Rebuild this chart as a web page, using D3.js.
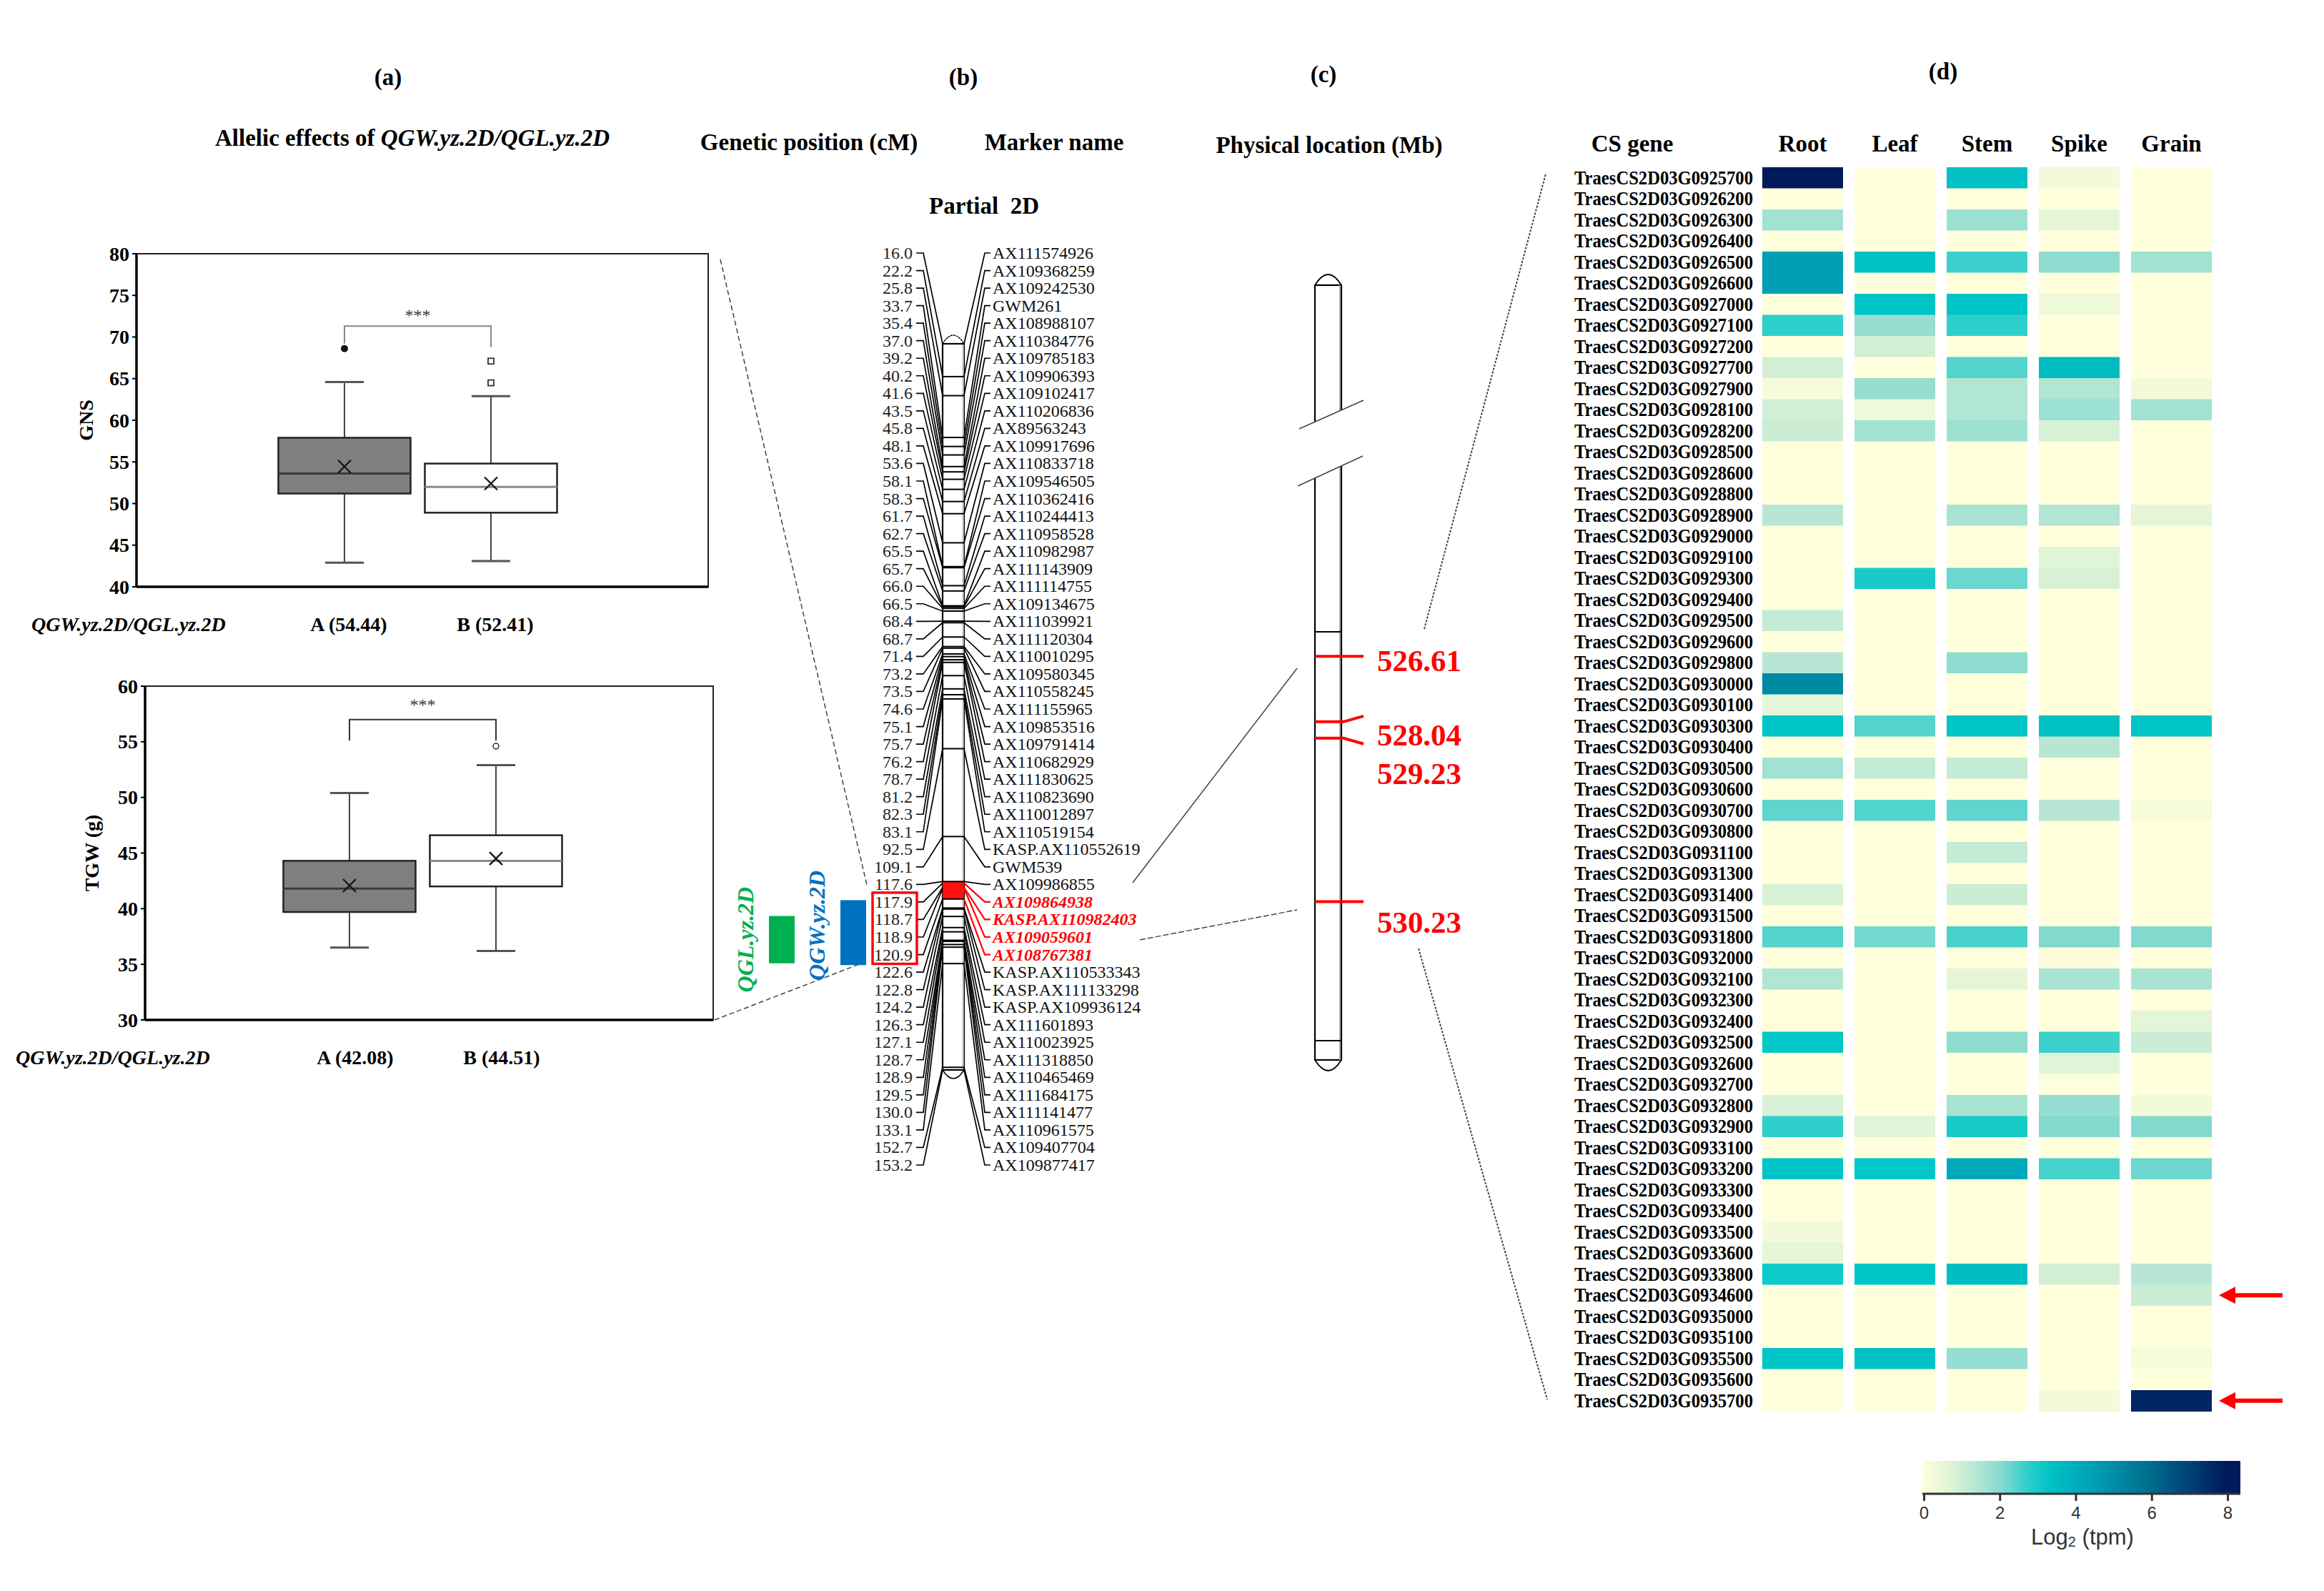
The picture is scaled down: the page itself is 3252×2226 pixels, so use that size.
<!DOCTYPE html>
<html><head><meta charset="utf-8">
<script src="https://cdn.jsdelivr.net/npm/d3@7"></script>
<style>
body{margin:0;background:#fff}
text{font-family:"Liberation Serif","Times New Roman",serif}
text.sans{font-family:"Liberation Sans",Arial,sans-serif}
</style>
</head><body>
<svg id="c" width="3252" height="2226"></svg>
<script>
// ---------------- DATA ----------------
// (a) allelic effect box plots
const alleleGroups = ["A", "B"];
const gnsLow = [42.9, 43.1], gnsQ1 = [51.2, 48.9], gnsMedian = [53.6, 52.0], gnsQ3 = [57.9, 54.8], gnsHigh = [64.6, 62.9];
const gnsMean = [54.44, 52.41];
const gnsOutliers = [[68.6], [64.5, 67.1]];
const tgwLow = [36.5, 36.2], tgwQ1 = [39.7, 42.0], tgwMedian = [41.8, 44.3], tgwQ3 = [44.3, 46.6], tgwHigh = [50.4, 52.9];
const tgwMean = [42.08, 44.51];
const tgwOutliers = [[], [54.6]];
const gnsTicks = [40, 45, 50, 55, 60, 65, 70, 75, 80];
const tgwTicks = [30, 35, 40, 45, 50, 55, 60];

// (b) genetic map of partial 2D
const cmPositions = [16.0, 22.2, 25.8, 33.7, 35.4, 37.0, 39.2, 40.2, 41.6, 43.5, 45.8, 48.1, 53.6, 58.1, 58.3, 61.7, 62.7, 65.5, 65.7, 66.0, 66.5, 68.4, 68.7, 71.4, 73.2, 73.5, 74.6, 75.1, 75.7, 76.2, 78.7, 81.2, 82.3, 83.1, 92.5, 109.1, 117.6, 117.9, 118.7, 118.9, 120.9, 122.6, 122.8, 124.2, 126.3, 127.1, 128.7, 128.9, 129.5, 130.0, 133.1, 152.7, 153.2];
const markerNames = ["AX111574926", "AX109368259", "AX109242530", "GWM261", "AX108988107", "AX110384776", "AX109785183", "AX109906393", "AX109102417", "AX110206836", "AX89563243", "AX109917696", "AX110833718", "AX109546505", "AX110362416", "AX110244413", "AX110958528", "AX110982987", "AX111143909", "AX111114755", "AX109134675", "AX111039921", "AX111120304", "AX110010295", "AX109580345", "AX110558245", "AX111155965", "AX109853516", "AX109791414", "AX110682929", "AX111830625", "AX110823690", "AX110012897", "AX110519154", "KASP.AX110552619", "GWM539", "AX109986855", "AX109864938", "KASP.AX110982403", "AX109059601", "AX108767381", "KASP.AX110533343", "KASP.AX111133298", "KASP.AX109936124", "AX111601893", "AX110023925", "AX111318850", "AX110465469", "AX111684175", "AX111141477", "AX110961575", "AX109407704", "AX109877417"];
const highlightMarkers = ["AX109864938", "KASP.AX110982403", "AX109059601", "AX108767381"];
const highlightInterval = [117.6, 120.9];
const qtlNames = ["QGL.yz.2D", "QGW.yz.2D"];
const qtlColors = ["#00b050", "#0070c0"];
const qtlRowStart = [37.8, 36.9];   // in marker-row units
const qtlRowEnd = [40.5, 40.6];

// (c) physical location
const physMb = [526.61, 528.04, 529.23, 530.23];
const physCm = [117.9, 118.7, 118.9, 120.9];
const physFlankCm = [117.6, 122.6];

// (d) expression heatmap
const genes = ["TraesCS2D03G0925700", "TraesCS2D03G0926200", "TraesCS2D03G0926300", "TraesCS2D03G0926400", "TraesCS2D03G0926500", "TraesCS2D03G0926600", "TraesCS2D03G0927000", "TraesCS2D03G0927100", "TraesCS2D03G0927200", "TraesCS2D03G0927700", "TraesCS2D03G0927900", "TraesCS2D03G0928100", "TraesCS2D03G0928200", "TraesCS2D03G0928500", "TraesCS2D03G0928600", "TraesCS2D03G0928800", "TraesCS2D03G0928900", "TraesCS2D03G0929000", "TraesCS2D03G0929100", "TraesCS2D03G0929300", "TraesCS2D03G0929400", "TraesCS2D03G0929500", "TraesCS2D03G0929600", "TraesCS2D03G0929800", "TraesCS2D03G0930000", "TraesCS2D03G0930100", "TraesCS2D03G0930300", "TraesCS2D03G0930400", "TraesCS2D03G0930500", "TraesCS2D03G0930600", "TraesCS2D03G0930700", "TraesCS2D03G0930800", "TraesCS2D03G0931100", "TraesCS2D03G0931300", "TraesCS2D03G0931400", "TraesCS2D03G0931500", "TraesCS2D03G0931800", "TraesCS2D03G0932000", "TraesCS2D03G0932100", "TraesCS2D03G0932300", "TraesCS2D03G0932400", "TraesCS2D03G0932500", "TraesCS2D03G0932600", "TraesCS2D03G0932700", "TraesCS2D03G0932800", "TraesCS2D03G0932900", "TraesCS2D03G0933100", "TraesCS2D03G0933200", "TraesCS2D03G0933300", "TraesCS2D03G0933400", "TraesCS2D03G0933500", "TraesCS2D03G0933600", "TraesCS2D03G0933800", "TraesCS2D03G0934600", "TraesCS2D03G0935000", "TraesCS2D03G0935100", "TraesCS2D03G0935500", "TraesCS2D03G0935600", "TraesCS2D03G0935700"];
const tissues = ["Root", "Leaf", "Stem", "Spike", "Grain"];
const rootExpr  = [8.0,0,1.7,0,4.5,4.5,0,2.8,0,1.0,0.2,1.0,1.1,0,0,0,1.4,0,0,0,0,1.2,0,1.4,5.2,0.6,3.3,0,1.7,0,2.4,0,0,0,0.9,0,2.5,0,1.5,0,0,3.2,0,0,0.9,2.8,0,3.3,0,0,0.3,0.6,3.1,0,0,0,3.3,0,0];
const leafExpr  = [0,0,0,0,3.4,0,3.3,1.9,1.0,0,1.9,0.4,1.7,0,0,0,0,0,0,3.0,0,0,0,0,0,0,2.5,0,1.2,0,2.5,0,0,0,0,0,2.2,0,0,0,0,0,0,0,0,0.7,0,3.2,0,0,0,0,3.3,0,0,0,3.4,0,0];
const stemExpr  = [3.4,0,1.8,0,2.7,0,3.3,2.8,0,2.5,1.5,1.5,1.8,0,0,0,1.6,0,0,2.3,0,0,0,2.0,0,0,3.3,0,1.2,0,2.4,0,1.2,0,1.1,0,2.6,0,0.6,0,0,2.0,0,0,1.6,3.0,0,4.2,0,0,0,0,3.5,0,0,0,1.9,0,0];
const spikeExpr = [0.3,0,0.6,0,2.0,0,0.4,0,0,3.6,1.5,1.8,0.9,0,0,0,1.5,0,0.7,0.9,0,0,0,0,0,0,3.4,1.4,0,0,1.4,0,0,0,0,0,2.1,0.1,1.6,0,0,2.7,0.7,0.05,1.9,2.1,0,2.6,0,0,0,0,1.0,0,0,0,0,0,0.3];
const grainExpr = [0,0,0,0,1.7,0,0,0,0,0,0.3,1.7,0,0,0,0,0.6,0,0,0,0,0,0,0,0,0,3.3,0,0,0,0.2,0,0,0,0,0,2.1,0,1.6,0,0.6,1.1,0,0,0.3,2.1,0,2.3,0,0,0,0,1.4,1.1,0,0,0.2,0,7.7];
const arrowGenes = ["TraesCS2D03G0934600", "TraesCS2D03G0935700"];
const legendTicks = [0, 2, 4, 6, 8];

// ---------------- DRAWING ----------------
const svg = d3.select("#c");
svg.append("rect").attr("width", 3252).attr("height", 2226).attr("fill", "#fff");

function txt(g, x, y, s, o = {}) {
  const t = g.append("text").attr("x", x).attr("y", y).attr("dominant-baseline", "central")
    .attr("text-anchor", o.anchor || "middle").attr("font-size", o.size || 33)
    .attr("font-weight", o.weight || "bold").attr("fill", o.fill || "#000")
    .attr("font-style", o.style || "normal");
  if (o.rotate) t.attr("transform", `rotate(${o.rotate},${x},${y})`);
  t.text(s);
  return t;
}

// ---- panel titles ----
txt(svg, 543, 108, "(a)");
const at = svg.append("text").attr("x", 577).attr("y", 193).attr("text-anchor", "middle")
  .attr("dominant-baseline", "central").attr("font-size", 33).attr("font-weight", "bold");
at.append("tspan").text("Allelic effects of ");
at.append("tspan").attr("font-style", "italic").text("QGW.yz.2D/QGL.yz.2D");
txt(svg, 1348, 108, "(b)");
txt(svg, 1132, 199, "Genetic position (cM)");
txt(svg, 1475, 199, "Marker name");
txt(svg, 1377, 288, "Partial\u00a0\u00a02D");
txt(svg, 1852, 104, "(c)");
txt(svg, 1860, 203, "Physical location (Mb)");
txt(svg, 2719, 100, "(d)");

// ---- (a) box plots ----
function boxPlot(cfg) {
  const g = svg.append("g");
  const f = cfg.frame;
  const y = d3.scaleLinear().domain(cfg.domain).range([f.y1, f.y0]);
  const x = d3.scalePoint().domain(alleleGroups).range(cfg.centers);
  g.append("rect").attr("x", f.x0).attr("y", f.y0).attr("width", f.x1 - f.x0).attr("height", f.y1 - f.y0)
    .attr("fill", "none").attr("stroke", "#222").attr("stroke-width", 2);
  g.append("line").attr("x1", f.x0).attr("x2", f.x0).attr("y1", f.y0).attr("y2", f.y1).attr("stroke", "#000").attr("stroke-width", 3.5);
  g.append("line").attr("x1", f.x0).attr("x2", f.x1).attr("y1", f.y1).attr("y2", f.y1).attr("stroke", "#000").attr("stroke-width", 3.5);
  cfg.ticks.forEach(t => {
    g.append("line").attr("x1", f.x0 - 6).attr("x2", f.x0).attr("y1", y(t)).attr("y2", y(t)).attr("stroke", "#000").attr("stroke-width", 2);
    txt(g, f.x0 - 10, y(t), String(t), { anchor: "end", size: 28 });
  });
  txt(g, cfg.titleX, (f.y0 + f.y1) / 2, cfg.title, { size: 28, rotate: -90 });
  const bw = 185, cw = 54;
  alleleGroups.forEach((a, i) => {
    const cx = x(a);
    g.append("line").attr("x1", cx).attr("x2", cx).attr("y1", y(cfg.low[i])).attr("y2", y(cfg.high[i])).attr("stroke", "#444").attr("stroke-width", 2);
    [cfg.low[i], cfg.high[i]].forEach(v => g.append("line").attr("x1", cx - cw / 2).attr("x2", cx + cw / 2)
      .attr("y1", y(v)).attr("y2", y(v)).attr("stroke", "#555").attr("stroke-width", 3));
    g.append("rect").attr("x", cx - bw / 2).attr("y", y(cfg.q3[i])).attr("width", bw).attr("height", y(cfg.q1[i]) - y(cfg.q3[i]))
      .attr("fill", i === 0 ? "#7f7f7f" : "#fff").attr("stroke", "#222").attr("stroke-width", 2.5);
    g.append("line").attr("x1", cx - bw / 2).attr("x2", cx + bw / 2).attr("y1", y(cfg.median[i])).attr("y2", y(cfg.median[i]))
      .attr("stroke", i === 0 ? "#3a3a3a" : "#8a8a8a").attr("stroke-width", 3);
    const my = y(cfg.mean[i]), s = 9;
    g.append("path").attr("d", `M${cx - s},${my - s}L${cx + s},${my + s}M${cx - s},${my + s}L${cx + s},${my - s}`)
      .attr("stroke", "#111").attr("stroke-width", 2.2);
    cfg.outliers[i].forEach(v => {
      if (i === 0) g.append("circle").attr("cx", cx).attr("cy", y(v)).attr("r", 5).attr("fill", "#111");
      else if (cfg.square) g.append("rect").attr("x", cx - 4).attr("y", y(v) - 4).attr("width", 8).attr("height", 8).attr("fill", "#fff").attr("stroke", "#333").attr("stroke-width", 1.8);
      else g.append("circle").attr("cx", cx).attr("cy", y(v)).attr("r", 4).attr("fill", "#fff").attr("stroke", "#333").attr("stroke-width", 1.6);
    });
    txt(g, cx + cfg.labelShift, cfg.labelY, `${a} (${cfg.mean[i].toFixed(2)})`, { size: 28 });
  });
  const b = cfg.bracket;
  g.append("path").attr("d", `M${x("A")},${y(b.endA)}V${y(b.level)}H${x("B")}V${y(b.endB)}`)
    .attr("fill", "none").attr("stroke", b.color).attr("stroke-width", 2);
  txt(g, (x("A") + x("B")) / 2, y(b.star), "***", { size: 24, weight: "normal", fill: "#333" });
  svg.append("text").attr("x", cfg.leftLabelX).attr("y", cfg.labelY).attr("dominant-baseline", "central")
    .attr("font-size", 28).attr("font-weight", "bold").attr("font-style", "italic").text("QGW.yz.2D/QGL.yz.2D");
}
boxPlot({ frame: { x0: 191, x1: 991, y0: 355, y1: 821 }, domain: [40, 80], ticks: gnsTicks, centers: [482, 687],
  low: gnsLow, q1: gnsQ1, median: gnsMedian, q3: gnsQ3, high: gnsHigh, mean: gnsMean, outliers: gnsOutliers, square: true,
  title: "GNS", titleX: 120, labelY: 873, labelShift: 6, leftLabelX: 44,
  bracket: { level: 71.3, endA: 69.2, endB: 68.8, star: 72.6, color: "#888" } });
boxPlot({ frame: { x0: 203, x1: 998, y0: 960, y1: 1427 }, domain: [30, 60], ticks: tgwTicks, centers: [489, 694],
  low: tgwLow, q1: tgwQ1, median: tgwMedian, q3: tgwQ3, high: tgwHigh, mean: tgwMean, outliers: tgwOutliers, square: false,
  title: "TGW (g)", titleX: 128, labelY: 1479, labelShift: 8, leftLabelX: 22,
  bracket: { level: 57.0, endA: 55.1, endB: 55.1, star: 58.3, color: "#333" } });

// ---- connection lines between panels ----
const conn = svg.append("g").attr("fill", "none");
conn.append("line").attr("x1", 1008).attr("y1", 363).attr("x2", 1213).attr("y2", 1238).attr("stroke", "#444").attr("stroke-width", 1.5).attr("stroke-dasharray", "7,4");
conn.append("line").attr("x1", 1000).attr("y1", 1427).attr("x2", 1213).attr("y2", 1345).attr("stroke", "#444").attr("stroke-width", 1.5).attr("stroke-dasharray", "7,4");
conn.append("line").attr("x1", 1585).attr("y1", 1235).attr("x2", 1815).attr("y2", 935).attr("stroke", "#444").attr("stroke-width", 1.5);
conn.append("line").attr("x1", 1595).attr("y1", 1315).attr("x2", 1815).attr("y2", 1273).attr("stroke", "#444").attr("stroke-width", 1.5).attr("stroke-dasharray", "8,3");
conn.append("line").attr("x1", 1993).attr("y1", 880).attr("x2", 2163).attr("y2", 243).attr("stroke", "#444").attr("stroke-width", 2).attr("stroke-dasharray", "3,2");
conn.append("line").attr("x1", 1985).attr("y1", 1327).attr("x2", 2165).attr("y2", 1958).attr("stroke", "#444").attr("stroke-width", 2).attr("stroke-dasharray", "3,2");

// ---- (b) genetic map ----
const gb = svg.append("g");
const cmY = d3.scaleLinear().domain([cmPositions[0], cmPositions[cmPositions.length - 1]]).range([481, 1497]);
const rowY = d3.scaleLinear().domain([0, cmPositions.length - 1]).range([354, 1630]);
const barL = 1319, barR = 1349;
gb.append("path").attr("d", `M${barL},${cmY(16)}Q${(barL + barR) / 2},${cmY(16) - 24} ${barR},${cmY(16)}`).attr("fill", "#fff").attr("stroke", "#000").attr("stroke-width", 1.5).attr("stroke-dasharray", "3,1");
gb.append("path").attr("d", `M${barL},${cmY(153.2)}Q${(barL + barR) / 2},${cmY(153.2) + 24} ${barR},${cmY(153.2)}`).attr("fill", "#fff").attr("stroke", "#000").attr("stroke-width", 1.5);
gb.append("rect").attr("x", barL).attr("y", cmY(16)).attr("width", barR - barL).attr("height", cmY(153.2) - cmY(16))
  .attr("fill", "#fff").attr("stroke", "#000").attr("stroke-width", 2.2);
gb.append("line").attr("x1", barR - 1).attr("x2", barR - 1).attr("y1", cmY(16)).attr("y2", cmY(153.2)).attr("stroke", "#aaa").attr("stroke-width", 2);
gb.append("rect").attr("x", barL).attr("y", cmY(highlightInterval[0])).attr("width", barR - barL)
  .attr("height", cmY(highlightInterval[1]) - cmY(highlightInterval[0])).attr("fill", "#ff1010");
cmPositions.forEach((cm, i) => {
  const red = highlightMarkers.includes(markerNames[i]);
  const yy = cmY(cm), ry = rowY(i);
  if (!(cm > highlightInterval[0] && cm < highlightInterval[1]))
    gb.append("line").attr("x1", barL).attr("x2", barR).attr("y1", yy).attr("y2", yy).attr("stroke", "#000").attr("stroke-width", 2);
  gb.append("path").attr("d", `M1282,${ry}H1292L${barL},${yy}`).attr("fill", "none").attr("stroke", "#000").attr("stroke-width", 1.7);
  gb.append("path").attr("d", `M${barR},${yy}L1378,${ry}H1386`).attr("fill", "none").attr("stroke", red ? "#ff0000" : "#000").attr("stroke-width", red ? 2.2 : 1.7);
  txt(gb, 1277, ry, cm.toFixed(1), { anchor: "end", size: 24, weight: "normal", fill: "#222" });
  txt(gb, 1389, ry, markerNames[i], { anchor: "start", size: 24, weight: red ? "bold" : "normal", style: red ? "italic" : "normal", fill: red ? "#ff0000" : "#111" });
});
const i0 = markerNames.indexOf(highlightMarkers[0]), i1 = markerNames.indexOf(highlightMarkers[highlightMarkers.length - 1]);
gb.append("rect").attr("x", 1221).attr("y", rowY(i0) - 13).attr("width", 62).attr("height", rowY(i1) - rowY(i0) + 26)
  .attr("fill", "none").attr("stroke", "#ff0000").attr("stroke-width", 3.5);
qtlNames.forEach((q, k) => {
  const bx = k === 0 ? 1076 : 1176;
  const y0 = rowY(qtlRowStart[k]), y1 = rowY(qtlRowEnd[k]);
  gb.append("rect").attr("x", bx).attr("y", y0).attr("width", 36).attr("height", y1 - y0).attr("fill", qtlColors[k]);
  txt(gb, bx - 33, (y0 + y1) / 2 - 10 * k, q, { size: 32, style: "italic", fill: qtlColors[k], rotate: -90 });
});

// ---- (c) physical map ----
const gc = svg.append("g");
const physY = d3.scaleLinear().domain(physFlankCm).range([884, 1456]);
const pL = 1840, pR = 1877, pTop = 399, pBot = 1483;
gc.append("path").attr("d", `M${pL},${pTop}Q${(pL + pR) / 2},${pTop - 30} ${pR},${pTop}`).attr("fill", "#fff").attr("stroke", "#000").attr("stroke-width", 1.8);
gc.append("path").attr("d", `M${pL},${pBot}Q${(pL + pR) / 2},${pBot + 30} ${pR},${pBot}`).attr("fill", "#fff").attr("stroke", "#000").attr("stroke-width", 1.8);
gc.append("rect").attr("x", pL).attr("y", pTop).attr("width", pR - pL).attr("height", pBot - pTop).attr("fill", "#fff").attr("stroke", "#000").attr("stroke-width", 2.2);
gc.append("line").attr("x1", pR - 2).attr("x2", pR - 2).attr("y1", pTop).attr("y2", pBot).attr("stroke", "#aaa").attr("stroke-width", 2);
physFlankCm.forEach(c => gc.append("line").attr("x1", pL).attr("x2", pR).attr("y1", physY(c)).attr("y2", physY(c)).attr("stroke", "#000").attr("stroke-width", 2));
gc.append("line").attr("x1", pL).attr("x2", pR).attr("y1", pBot - 27).attr("y2", pBot - 27).attr("stroke", "#000").attr("stroke-width", 2);
// break marks
gc.append("path").attr("d", "M1818,600L1908,560L1907,638L1816,680Z").attr("fill", "#fff");
gc.append("line").attr("x1", 1818).attr("y1", 600).attr("x2", 1908).attr("y2", 560).attr("stroke", "#444").attr("stroke-width", 1.5);
gc.append("line").attr("x1", 1816).attr("y1", 680).attr("x2", 1907).attr("y2", 638).attr("stroke", "#444").attr("stroke-width", 1.5);
const fork = [0, -8, 8, 0];
const labelNudge = [7, 19, 50, 29];
physMb.forEach((mb, i) => {
  const yy = physY(physCm[i]);
  gc.append("path").attr("d", `M${pL},${yy}H1880L1908,${yy + fork[i]}`).attr("fill", "none").attr("stroke", "#ff0000").attr("stroke-width", 4);
  txt(gc, 1927, yy + labelNudge[i], mb.toFixed(2), { anchor: "start", size: 42, fill: "#ff0000" }).attr("textLength", 118).attr("lengthAdjust", "spacingAndGlyphs");
});

// ---- (d) heatmap ----
const gd = svg.append("g");
const exprByTissue = [rootExpr, leafExpr, stemExpr, spikeExpr, grainExpr];
const color = d3.scaleLinear().domain([0, 1, 2, 3.2, 4.5, 6, 8])
  .range(["#ffffdb", "#d2efd6", "#8edcd0", "#00c8c8", "#00a0b4", "#006e8f", "#001a5b"]).clamp(true);
const xCol = d3.scaleBand().domain(tissues).range([2466, 3095]).paddingInner(0.124);
const yRow = d3.scaleBand().domain(genes).range([234, 234 + genes.length * 29.5]);
txt(gd, 2284, 201, "CS gene");
tissues.forEach((t, j) => {
  txt(gd, xCol(t) + xCol.bandwidth() / 2, 201, t);
  gd.selectAll(null).data(genes).enter().append("rect")
    .attr("x", xCol(t)).attr("y", g => yRow(g)).attr("width", xCol.bandwidth()).attr("height", yRow.bandwidth() + 0.5)
    .attr("fill", (g, i) => color(exprByTissue[j][i]));
});
genes.forEach(g => {
  txt(gd, 2453, yRow(g) + yRow.bandwidth() / 2, g, { anchor: "end", size: 27 })
    .attr("textLength", 250).attr("lengthAdjust", "spacingAndGlyphs");
});
arrowGenes.forEach(g => {
  const yy = yRow(g) + yRow.bandwidth() / 2;
  gd.append("line").attr("x1", 3120).attr("x2", 3194).attr("y1", yy).attr("y2", yy).attr("stroke", "#ff0000").attr("stroke-width", 6);
  gd.append("path").attr("d", `M3105,${yy}L3128,${yy - 12}L3128,${yy + 12}Z`).attr("fill", "#ff0000");
});

// ---- legend ----
const lg = svg.append("g");
const lx = d3.scaleLinear().domain([0, 8]).range([2692, 3117]);
const grad = svg.append("defs").append("linearGradient").attr("id", "lgGrad");
d3.range(0, 1.0001, 0.05).forEach(t => grad.append("stop").attr("offset", t).attr("stop-color", color(t * 8.4)));
lg.append("rect").attr("x", 2690).attr("y", 2044).attr("width", 3135 - 2690).attr("height", 46).attr("fill", "url(#lgGrad)");
const ax = lg.append("g").attr("transform", "translate(0,2090)")
  .call(d3.axisBottom(lx).tickValues(legendTicks).tickSize(10).tickFormat(d3.format("d")));
ax.select(".domain").attr("stroke", "#333").attr("stroke-width", 3).attr("d", "M2690,0H3135");
ax.selectAll(".tick line").attr("stroke", "#333").attr("stroke-width", 3);
ax.selectAll(".tick text").attr("class", "sans").attr("font-size", 24).attr("fill", "#333").attr("dy", "0.9em");
const lt2 = lg.append("text").attr("class", "sans").attr("x", 2914).attr("y", 2150).attr("text-anchor", "middle").attr("dominant-baseline", "central")
  .attr("font-size", 31).attr("fill", "#333");
lt2.append("tspan").text("Log");
lt2.append("tspan").attr("font-size", 20).attr("dy", 7).text("2");
lt2.append("tspan").attr("dy", -7).text(" (tpm)");
</script>
</body></html>
